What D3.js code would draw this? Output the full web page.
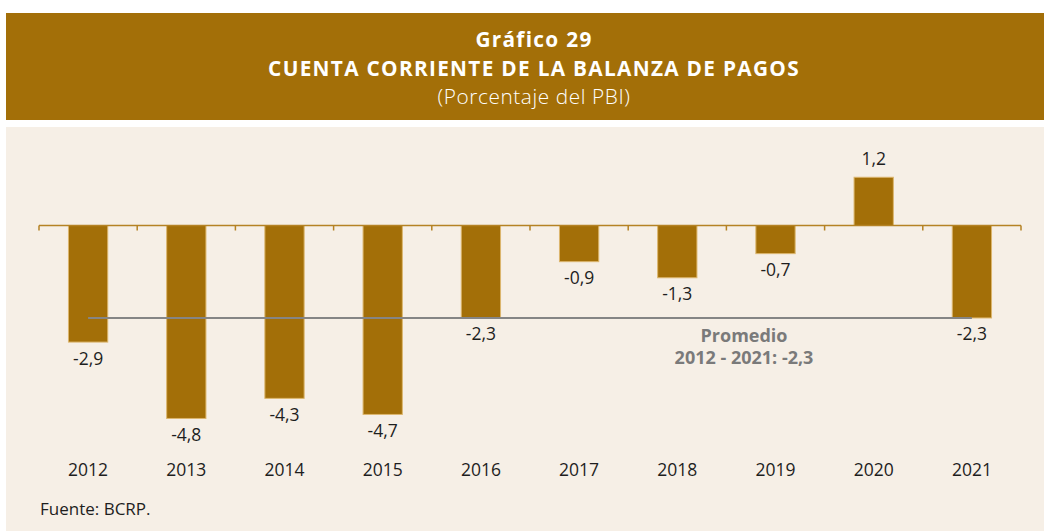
<!DOCTYPE html>
<html>
<head>
<meta charset="utf-8">
<title>Cuenta corriente</title>
<style>
	body { margin: 0; background: #fff; }
	svg { display: block; font-family: "Open Sans", "Noto Sans", sans-serif; }
</style>
</head>
<body>
<div id="vis"></div>
<script src="https://d3js.org/d3.v7.min.js"></script>
<script>
	var years = ["2012", "2013", "2014", "2015", "2016", "2017", "2018", "2019", "2020", "2021"];
	var values = [-2.9, -4.8, -4.3, -4.7, -2.3, -0.9, -1.3, -0.7, 1.2, -2.3];
	var average = -2.3;
	var titleLines = ["Gráfico 29", "CUENTA CORRIENTE DE LA BALANZA DE PAGOS", "(Porcentaje del PBI)"];
	var avgLabel = ["Promedio", "2012 - 2021: -2,3"];

	var W = 1044, H = 531;
	var gold = "#a36f08";
	var fmt = function(v) { return String(v).replace(".", ","); };

	var svg = d3.select("#vis").append("svg")
		.attr("width", W)
		.attr("height", H);

	// banner
	svg.append("rect")
		.attr("x", 6).attr("y", 13)
		.attr("width", W - 6).attr("height", 107)
		.attr("fill", gold);

	// title lines: a bit of letter spacing to get the wide look of the original
	svg.selectAll(".title")
		.data(titleLines)
	  .enter().append("text")
		.attr("x", 534)
		.attr("y", function(d, i) { return 47 + i * 28.5; })
		.attr("text-anchor", "middle")
		.attr("fill", "#fff")
		.style("font-size", "20.8px")
		.style("letter-spacing", function(d, i) { return i < 2 ? "1.3px" : "0.6px"; })
		.style("font-weight", function(d, i) { return i < 2 ? 700 : 300; })
		.text(function(d) { return d; });

	// panel
	svg.append("rect")
		.attr("x", 6).attr("y", 127)
		.attr("width", W - 6).attr("height", H - 127)
		.attr("fill", "#f6efe6");

	var x = d3.scaleBand()
		.domain(years)
		.range([39, 1021])
		.paddingInner(0.6)
		.paddingOuter(0.3);

	var y = d3.scaleLinear()
		.domain([-5, 2])
		.range([225.5 + 5 * 40.2, 225.5 - 2 * 40.2]);

	// bars
	svg.selectAll(".bar")
		.data(values)
	  .enter().append("rect")
		.attr("class", "bar")
		.attr("x", function(d, i) { return x(years[i]); })
		.attr("width", x.bandwidth())
		.attr("y", function(d) { return y(Math.max(0, d)); })
		.attr("height", function(d) { return Math.abs(y(d) - y(0)); })
		.attr("fill", gold)
		.attr("stroke", "#dcb66e")
		.attr("stroke-width", 1);

	// zero axis with ticks between categories
	var axis = svg.append("g").attr("stroke", "#b58224").attr("stroke-width", 1.5);
	axis.append("line")
		.attr("x1", 39).attr("x2", 1021)
		.attr("y1", y(0)).attr("y2", y(0));
	d3.range(years.length + 1).forEach(function(i) {
		var tx = 39 + i * (982 / years.length);
		axis.append("line")
			.attr("x1", tx).attr("x2", tx)
			.attr("y1", y(0)).attr("y2", y(0) + 5);
	});

	// average line
	svg.append("line")
		.attr("x1", x(years[0]) + x.bandwidth() / 2)
		.attr("x2", x(years[9]) + x.bandwidth() / 2)
		.attr("y1", y(average)).attr("y2", y(average))
		.attr("stroke", "#858585")
		.attr("stroke-width", 2);

	svg.selectAll(".avg")
		.data(avgLabel)
	  .enter().append("text")
		.attr("x", 744)
		.attr("y", function(d, i) { return 341.5 + i * 22; })
		.attr("text-anchor", "middle")
		.attr("fill", "#7a7a7a")
		.style("font-size", "18px")
		.style("font-weight", 700)
		.text(function(d) { return d; });

	// value labels
	svg.selectAll(".val")
		.data(values)
	  .enter().append("text")
		.attr("x", function(d, i) { return x(years[i]) + x.bandwidth() / 2; })
		.attr("y", function(d) { return d < 0 ? y(d) + 22.5 : y(d) - 12; })
		.attr("text-anchor", "middle")
		.attr("fill", "#1e1e1e")
		.style("font-size", "17.5px")
		.text(function(d) { return fmt(d); });

	// year labels
	svg.selectAll(".year")
		.data(years)
	  .enter().append("text")
		.attr("x", function(d) { return x(d) + x.bandwidth() / 2; })
		.attr("y", 475.5)
		.attr("text-anchor", "middle")
		.attr("fill", "#1e1e1e")
		.style("font-size", "17.5px")
		.text(function(d) { return d; });

	svg.append("text")
		.attr("x", 40).attr("y", 515)
		.attr("fill", "#1e1e1e")
		.style("font-size", "17px")
		.text("Fuente: BCRP.");
</script>
</body>
</html>
